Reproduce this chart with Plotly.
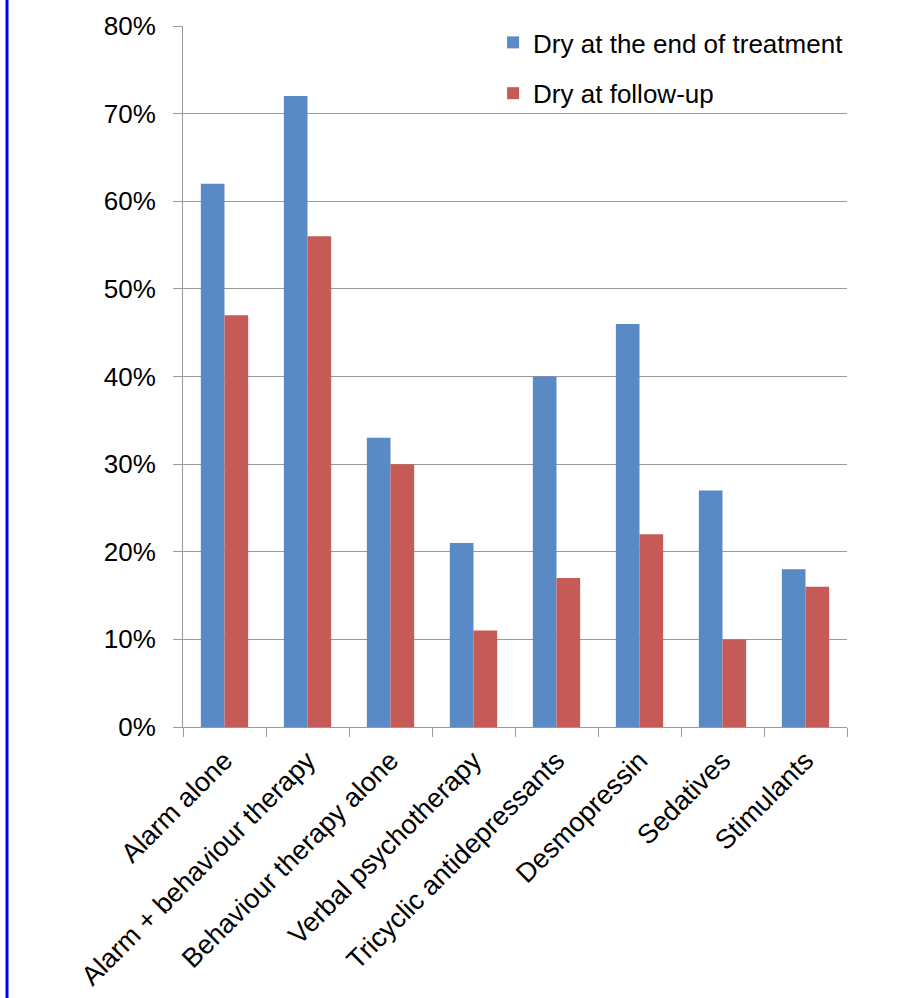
import plotly.graph_objects as go

categories = ["Alarm alone", "Alarm + behaviour therapy", "Behaviour therapy alone",
              "Verbal psychotherapy", "Tricyclic antidepressants", "Desmopressin",
              "Sedatives", "Stimulants"]
dry_end = [0.62, 0.72, 0.33, 0.21, 0.40, 0.46, 0.27, 0.18]
dry_follow = [0.47, 0.56, 0.30, 0.11, 0.17, 0.22, 0.10, 0.16]
series_names = ["Dry at the end of treatment", "Dry at follow-up"]
y_ticks = [0, 0.1, 0.2, 0.3, 0.4, 0.5, 0.6, 0.7, 0.8]

FONT = "Liberation Sans, Arial, sans-serif"

fig = go.Figure()
fig.add_trace(go.Bar(x=categories, y=dry_end, name=series_names[0],
                     marker=dict(color="#5A8AC6", line=dict(width=0)),
                     legendgroup="a"))
fig.add_trace(go.Bar(x=categories, y=dry_follow, name=series_names[1],
                     marker=dict(color="#C55A56", line=dict(width=0)),
                     legendgroup="b"))

fig.update_layout(
    width=917, height=998,
    margin=dict(l=183, r=70, t=26, b=271, autoexpand=False),
    paper_bgcolor="white", plot_bgcolor="white",
    barmode="group", bargap=0.43, bargroupgap=0,
    font=dict(family=FONT, color="#000000", size=26),
    legend=dict(x=0.467, y=1.01, xanchor="left", yanchor="top",
                bgcolor="rgba(0,0,0,0)", font=dict(size=26, family=FONT),
                traceorder="grouped", tracegroupgap=14, itemwidth=30),
    xaxis=dict(tickangle=-45, ticks="outside", tickson="boundaries", ticklen=9,
               tickcolor="#999999", showline=True, linecolor="#999999", linewidth=1,
               tickfont=dict(size=27, family=FONT), showgrid=False,
               ticklabelstandoff=6, automargin=False),
    yaxis=dict(range=[0, 0.8], tickvals=y_ticks, tickformat=".0%",
               ticks="outside", ticklen=9, tickcolor="#999999",
               showline=True, linecolor="#999999", linewidth=1,
               gridcolor="#999999", gridwidth=1, zeroline=False,
               tickfont=dict(size=26, family=FONT), ticklabelstandoff=12,
               automargin=False),
    showlegend=True,
    shapes=[dict(type="line", xref="paper", yref="paper",
                 x0=(7 - 183) / 664, x1=(7 - 183) / 664, y0=-271 / 701, y1=(998 - 271) / 701 + 0.1,
                 line=dict(color="#0000FF", width=3))],
)

fig.write_html("out.html")
